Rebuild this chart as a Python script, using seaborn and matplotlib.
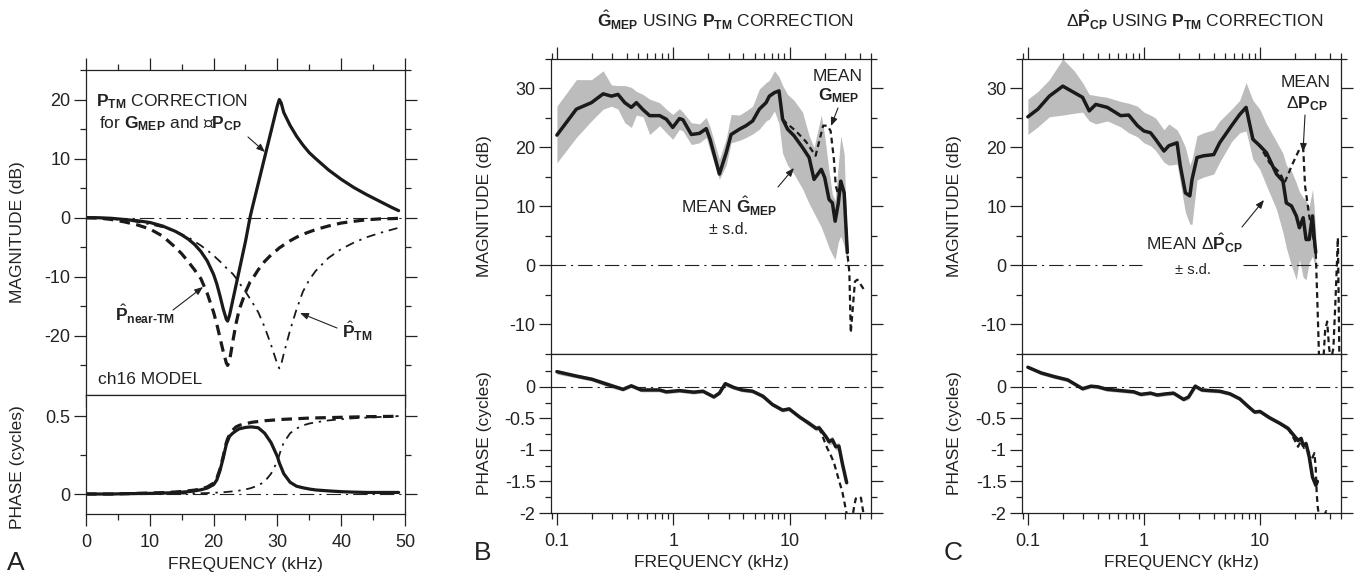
import matplotlib
matplotlib.use("Agg")
import matplotlib.pyplot as plt
import matplotlib.ticker as mticker
import matplotlib.patches
import seaborn as sns

# ---------------- Panel A: ch16 model (linear frequency, kHz) ----------------
freq_a = [0, 2, 4, 6, 8, 10, 12, 14, 15, 16, 17, 18, 19, 20, 20.5, 21, 21.5, 22, 22.2, 22.5,
          23, 23.5, 24, 25, 25.7, 26, 27, 28, 29, 30, 30.3, 30.6, 31, 32, 33, 34, 35, 36,
          38, 40, 42, 44, 46, 48, 49]
mag_corr = [0, 0, -0.1, -0.3, -0.5, -0.8, -1.4, -2.3, -2.9, -3.6, -4.5, -5.7, -7.3, -9.6, -11.2,
            -13.2, -15.4, -17.2, -17.5, -16.5, -14.0, -11.5, -9.0, -4.0, 0, 1.4, 5.8, 10.2, 14.6,
            19.0, 20.0, 19.4, 17.8, 15.6, 13.8, 12.3, 11.0, 10.0, 8.1, 6.5, 5.1, 3.9, 2.8, 1.7, 1.2]
mag_near = [0, -0.05, -0.3, -0.7, -1.2, -1.9, -3.1, -5.0, -6.1, -7.4, -8.8, -10.3, -12.8, -16.0,
            -18.0, -20.3, -22.6, -24.6, -25.0, -24.2, -21.0, -18.0, -15.6, -12.6, -10.9, -10.5,
            -8.8, -7.4, -6.3, -5.4, -5.1, -4.9, -4.6, -3.9, -3.3, -2.8, -2.4, -2.0, -1.4, -0.9,
            -0.6, -0.35, -0.2, -0.15, -0.1]
mag_tm = [0, -0.05, -0.2, -0.4, -0.7, -1.1, -1.6, -2.3, -2.8, -3.3, -4.0, -4.7, -5.5, -6.4, -6.9,
          -7.4, -7.9, -8.5, -8.7, -9.0, -9.5, -10.2, -11.0, -12.5, -13.7, -14.2, -16.0, -18.5,
          -21.5, -24.8, -25.5, -24.8, -23.0, -19.0, -15.5, -12.5, -10.5, -9.0, -6.8, -5.3, -4.2,
          -3.3, -2.6, -2.0, -1.7]
ph_corr = [0, 0, 0, 0.002, 0.003, 0.004, 0.006, 0.009, 0.012, 0.015, 0.02, 0.027, 0.038, 0.06,
           0.09, 0.15, 0.23, 0.32, 0.34, 0.37, 0.39, 0.405, 0.418, 0.427, 0.43, 0.43, 0.425, 0.39,
           0.33, 0.24, 0.2, 0.17, 0.13, 0.075, 0.05, 0.04, 0.032, 0.026, 0.02, 0.015, 0.012,
           0.01, 0.01, 0.01, 0.01]
ph_near = [0, 0, 0, 0.002, 0.004, 0.006, 0.009, 0.013, 0.016, 0.02, 0.025, 0.032, 0.045, 0.07,
           0.1, 0.16, 0.24, 0.33, 0.355, 0.38, 0.41, 0.43, 0.44, 0.452, 0.457, 0.46, 0.465, 0.47,
           0.473, 0.476, 0.477, 0.478, 0.479, 0.481, 0.483, 0.485, 0.487, 0.488, 0.49, 0.492,
           0.494, 0.496, 0.497, 0.498, 0.5]
ph_tm = [0, 0, 0, 0, 0.001, 0.001, 0.002, 0.002, 0.003, 0.003, 0.004, 0.005, 0.006, 0.008, 0.009,
         0.01, 0.011, 0.013, 0.014, 0.015, 0.017, 0.019, 0.022, 0.03, 0.036, 0.04, 0.055, 0.08,
         0.13, 0.21, 0.25, 0.29, 0.33, 0.39, 0.42, 0.44, 0.452, 0.46, 0.472, 0.48, 0.486, 0.49,
         0.494, 0.497, 0.5]

# ---------------- Panel B: G_MEP (log frequency, kHz) ----------------
freq_b = [0.1, 0.147, 0.198, 0.25, 0.294, 0.335, 0.383, 0.436, 0.482, 0.55, 0.627, 0.763, 0.871,
          0.99, 1.13, 1.21, 1.43, 1.68, 1.92, 2.07, 2.49, 2.85, 3.14, 3.7, 4.22, 4.81, 5.49, 6.27,
          6.69, 7.4, 8.1, 8.7, 9.6, 10.9, 12.9, 14.7, 16.2, 18.7, 20.0, 21.8, 23.3, 24.6, 26.2,
          27.5, 29.4, 31.3]
mag_b = [22.1, 26.5, 27.6, 29.1, 28.7, 29.0, 27.6, 26.8, 27.6, 26.4, 25.4, 25.4, 24.8, 23.4, 24.9,
         24.7, 22.2, 22.4, 23.2, 21.4, 15.5, 19.1, 22.2, 23.1, 23.7, 24.5, 26.5, 27.6, 28.7, 29.3,
         29.6, 24.8, 23.1, 22.0, 20.0, 18.3, 14.6, 16.3, 14.9, 11.2, 10.6, 7.5, 10.6, 14.3, 12.3, 2.2]
mag_b_hi = [27.0, 31.5, 31.5, 33.0, 30.6, 30.5, 30.5, 30.2, 29.5, 29.0, 28.2, 27.6, 26.5, 25.6,
            26.6, 26.0, 24.2, 24.0, 25.1, 23.5, 18.0, 21.5, 25.6, 25.5, 26.2, 27.0, 29.9, 31.0,
            31.4, 33.0, 32.0, 30.5, 29.0, 28.0, 26.0, 22.0, 20.0, 25.5, 22.0, 16.0, 12.0, 11.0,
            17.0, 22.0, 18.9, 3.2]
mag_b_lo = [17.4, 21.7, 24.5, 26.5, 27.0, 26.5, 24.2, 23.4, 25.5, 25.2, 22.2, 23.7, 22.5, 21.4,
            23.1, 22.8, 20.5, 20.8, 21.7, 19.5, 14.6, 17.0, 20.8, 21.2, 21.7, 22.3, 23.1, 24.5,
            24.8, 26.2, 24.0, 19.0, 17.0, 15.5, 13.0, 10.5, 8.9, 6.5, 5.0, 3.0, 1.8, 1.0, 4.0,
            5.0, 3.3, 0.0]
freq_b_dash = [8.7, 9.3, 11.3, 13.8, 16.7, 19.4, 21.1, 22.5, 24.0, 24.9, 26.2, 27.5, 29.4, 31.3,
               32.6, 33.5, 36.4, 38.2, 43.6]
mag_b_dash = [24.8, 24.2, 22.8, 21.0, 18.6, 23.7, 23.7, 22.8, 18.0, 13.5, 12.0, 14.3, 12.3, 2.2,
              -1.2, -11.4, -2.7, -2.4, -4.1]
freq_bp = [0.1, 0.147, 0.2, 0.27, 0.37, 0.436, 0.53, 0.763, 0.87, 1.13, 1.5, 1.8, 2.23, 2.49, 2.8,
           3.3, 3.9, 4.8, 5.9, 7.1, 8.7, 9.9, 12.2, 14.7, 16.9, 17.9, 20.5, 21.8, 23.3, 24.9, 26.5,
           28.4, 30.9]
ph_b = [0.24, 0.17, 0.12, 0.04, -0.04, 0.016, -0.05, -0.05, -0.08, -0.06, -0.085, -0.07, -0.16,
        -0.1, 0.05, -0.01, -0.05, -0.07, -0.15, -0.28, -0.37, -0.35, -0.48, -0.58, -0.66, -0.65,
        -0.79, -0.87, -0.84, -0.95, -0.94, -1.22, -1.52]
ph_b_hi = [0.27, 0.2, 0.15, 0.08, -0.01, 0.04, -0.02, -0.02, -0.05, -0.03, -0.055, -0.04, -0.13,
           -0.07, 0.08, 0.02, -0.02, -0.04, -0.12, -0.25, -0.34, -0.32, -0.45, -0.54, -0.62, -0.6,
           -0.75, -0.82, -0.78, -0.9, -0.88, -1.15, -1.48]
ph_b_lo = [0.2, 0.14, 0.09, 0.0, -0.07, -0.01, -0.08, -0.08, -0.11, -0.09, -0.115, -0.1, -0.19,
           -0.13, 0.01, -0.04, -0.08, -0.1, -0.18, -0.31, -0.4, -0.38, -0.51, -0.62, -0.7, -0.69,
           -0.83, -0.92, -0.9, -1.0, -1.0, -1.28, -1.56]
freq_bp_dash1 = [17.9, 19.5, 21.0, 22.5, 24.0, 26.5, 28.4, 30.5, 32.0]
ph_b_dash1 = [-0.65, -0.82, -0.97, -1.08, -1.2, -1.48, -1.67, -1.96, -2.15]
freq_bp_dash2 = [34.0, 35.8, 37.0, 39.5, 41.0, 42.4, 44.0]
ph_b_dash2 = [-2.15, -1.9, -1.77, -1.74, -1.76, -1.93, -2.1]

# ---------------- Panel C: delta P_CP (log frequency, kHz) ----------------
freq_c = [0.1, 0.122, 0.153, 0.2, 0.251, 0.296, 0.338, 0.385, 0.484, 0.63, 0.74, 0.88, 1.0, 1.14,
          1.26, 1.49, 1.64, 1.93, 2.06, 2.28, 2.49, 2.6, 2.87, 3.28, 4.0, 4.5, 5.7, 6.7, 7.6, 8.7,
          9.98, 11.4, 13.9, 15.8, 16.9, 18.7, 20.6, 21.9, 23.6, 25.0, 26.6, 28.4, 29.3, 30.3]
mag_c = [25.2, 26.5, 28.7, 30.4, 29.3, 28.5, 26.2, 27.3, 26.8, 25.4, 25.5, 23.7, 22.8, 22.5, 21.4,
         19.4, 20.3, 20.8, 16.9, 12.3, 11.8, 14.6, 18.3, 18.6, 18.8, 20.8, 23.7, 25.6, 26.8, 21.4,
         20.3, 19.1, 15.5, 14.3, 10.6, 10.1, 8.4, 6.4, 8.1, 4.4, 4.4, 8.4, 5.0, 2.2]
mag_c_hi = [28.2, 29.5, 31.5, 35.0, 33.0, 31.0, 29.0, 28.8, 28.5, 27.8, 27.5, 27.0, 26.0, 25.5,
            25.0, 23.0, 24.0, 23.0, 22.0, 20.0, 17.0, 18.0, 22.0, 22.5, 23.0, 24.5, 26.5, 28.0,
            31.0, 28.0, 26.5, 24.0, 21.0, 19.0, 17.0, 16.0, 14.0, 12.5, 11.5, 11.0, 10.0, 12.9,
            10.0, 5.6]
mag_c_lo = [22.2, 23.5, 25.2, 25.5, 25.8, 26.0, 24.5, 24.0, 24.5, 23.5, 22.5, 21.8, 20.8, 20.3,
            19.5, 17.5, 17.0, 17.2, 14.0, 9.0, 7.0, 7.0, 14.5, 15.0, 15.5, 17.5, 21.0, 22.5, 22.8,
            18.0, 16.3, 13.5, 9.5, 5.6, 3.0, 0.0, -2.4, 1.0, -2.0, -2.4, 0.5, 1.6, 0.5, -0.1]
freq_c_dash = [7.6, 8.7, 9.98, 12.1, 14.9, 16.3, 19.3, 21.9, 23.6, 24.5, 26.6, 28.4, 30.3, 31.5,
               32.5, 35.0, 36.5, 38.0, 39.5, 41.0, 43.0, 45.0, 47.0, 48.5]
mag_c_dash = [26.8, 21.4, 20.3, 17.4, 15.7, 14.0, 17.4, 19.7, 20.0, 13.5, 8.4, 5.5, 2.2, -8.0,
              -17.0, -17.0, -11.0, -9.5, -14.0, -16.0, -14.0, -5.0, 4.7, -17.0]
freq_cp = [0.1, 0.13, 0.17, 0.22, 0.296, 0.35, 0.4, 0.48, 0.63, 0.82, 0.94, 1.14, 1.3, 1.58, 1.8,
           2.2, 2.43, 2.77, 3.16, 3.7, 4.5, 5.5, 6.7, 7.9, 9.0, 10.0, 12.1, 14.9, 17.5, 20.0,
           21.3, 22.7, 23.6, 25.0, 26.6, 28.4, 30.3, 31.3]
ph_c = [0.31, 0.22, 0.16, 0.11, -0.03, 0.01, 0.0, -0.04, -0.06, -0.08, -0.12, -0.1, -0.13, -0.11,
        -0.1, -0.2, -0.16, 0.01, -0.05, -0.06, -0.07, -0.11, -0.19, -0.31, -0.4, -0.39, -0.49,
        -0.58, -0.66, -0.79, -0.85, -0.82, -0.93, -0.9, -1.11, -1.43, -1.56, -1.5]
ph_c_hi = [0.33, 0.25, 0.19, 0.14, 0.0, 0.04, 0.03, -0.01, -0.03, -0.05, -0.09, -0.07, -0.1,
           -0.08, -0.07, -0.17, -0.12, 0.05, -0.02, -0.03, -0.04, -0.08, -0.16, -0.28, -0.37,
           -0.36, -0.46, -0.55, -0.62, -0.75, -0.8, -0.77, -0.88, -0.85, -1.06, -1.38, -1.52, -1.46]
ph_c_lo = [0.29, 0.19, 0.13, 0.08, -0.06, -0.02, -0.03, -0.07, -0.09, -0.11, -0.15, -0.13, -0.16,
           -0.14, -0.13, -0.23, -0.2, -0.03, -0.08, -0.09, -0.1, -0.14, -0.22, -0.34, -0.43,
           -0.42, -0.52, -0.61, -0.7, -0.83, -0.9, -0.87, -0.98, -0.95, -1.16, -1.48, -1.6, -1.54]
freq_cp_dash1 = [17.5, 20.0, 21.3, 22.7, 24.0, 25.0, 26.6, 28.4, 29.5, 30.3, 30.9, 31.5, 32.5]
ph_c_dash1 = [-0.66, -0.85, -0.95, -0.86, -0.97, -0.95, -1.05, -1.12, -1.05, -1.3, -1.7, -1.9, -2.1]
freq_cp_dash2 = [35.5, 37.3, 39.0]
ph_c_dash2 = [-2.05, -1.97, -2.05]

# ---------------- Styling ----------------
sns.set_theme(style="ticks")
plt.rcParams['font.family'] = ['Liberation Sans', 'DejaVu Sans']
plt.rcParams.update({
    'mathtext.fontset': 'custom',
    'mathtext.rm': 'Liberation Sans',
    'mathtext.it': 'Liberation Sans:italic',
    'mathtext.bf': 'Liberation Sans:bold',
    'mathtext.sf': 'Liberation Sans',
    'axes.unicode_minus': False,
    'axes.edgecolor': '#222222',
    'axes.linewidth': 0.9,
    'text.color': '#222222',
    'xtick.color': '#222222',
    'ytick.color': '#222222',
    'axes.labelcolor': '#222222',
})

W, H = 1364, 578
fig = plt.figure(figsize=(W / 100, H / 100), dpi=100)


def box(l, t, r, b):
    return [l / W, 1 - b / H, (r - l) / W, (b - t) / H]


def fp(x, y):
    return (x / W, 1 - y / H)


axAm = fig.add_axes(box(86, 70, 405, 395))
axAp = fig.add_axes(box(86, 395, 405, 513.5))
axBm = fig.add_axes(box(551, 59, 871, 354))
axBp = fig.add_axes(box(551, 354, 871, 513))
axCm = fig.add_axes(box(1022, 59, 1341, 354))
axCp = fig.add_axes(box(1022, 354, 1341, 513))

TXT = '#222222'
FS_T = 13
FS_L = 12.5
ZERO_LS = (0, (13, 4.5, 2, 4.5))


def style(ax, top):
    ax.tick_params(which='both', direction='out', width=0.9, labelsize=FS_T,
                   top=top, bottom=True, left=True, right=True,
                   labeltop=False, labelright=False)
    ax.tick_params(which='major', length=8.6)
    ax.tick_params(which='minor', length=4.4)
    ax.tick_params(axis='y', which='both', pad=2.5)
    ax.tick_params(axis='x', which='both', pad=6)
    for s in ax.spines.values():
        s.set_visible(True)


fmt = mticker.FuncFormatter(lambda v, p: ('%g' % v))

# ---- Panel A magnitude ----
axAm.axhline(0, color=TXT, lw=0.8, linestyle=ZERO_LS)
sns.lineplot(x=freq_a, y=mag_tm, ax=axAm, color='k', lw=1.3, sort=False, estimator=None,
             linestyle=(0, (5.0, 3.2, 1.3, 3.2)))
sns.lineplot(x=freq_a, y=mag_near, ax=axAm, color='k', lw=2.3, sort=False, estimator=None,
             linestyle=(0, (3.3, 2.0)))
sns.lineplot(x=freq_a, y=mag_corr, ax=axAm, color='k', lw=2.3, sort=False, estimator=None)
axAm.set_xlim(0, 50)
axAm.set_ylim(-30, 25)
axAm.xaxis.set_major_locator(mticker.MultipleLocator(10))
axAm.xaxis.set_minor_locator(mticker.MultipleLocator(5))
axAm.yaxis.set_major_locator(mticker.FixedLocator([-20, -10, 0, 10, 20]))
axAm.yaxis.set_minor_locator(mticker.FixedLocator([-25, -15, -5, 5, 15, 25]))
axAm.yaxis.set_major_formatter(fmt)
style(axAm, top=True)
axAm.tick_params(labelbottom=False)
axAm.set_ylabel('MAGNITUDE (dB)', fontsize=FS_L, va='center')
axAm.yaxis.set_label_coords((17.5 - 86) / 319, 0.5)

# ---- Panel A phase ----
axAp.axhline(0, color=TXT, lw=0.8, linestyle=ZERO_LS)
sns.lineplot(x=freq_a, y=ph_tm, ax=axAp, color='k', lw=1.3, sort=False, estimator=None,
             linestyle=(0, (5.0, 3.2, 1.3, 3.2)))
sns.lineplot(x=freq_a, y=ph_near, ax=axAp, color='k', lw=2.3, sort=False, estimator=None,
             linestyle=(0, (3.3, 2.0)))
sns.lineplot(x=freq_a, y=ph_corr, ax=axAp, color='k', lw=2.3, sort=False, estimator=None)
axAp.set_xlim(0, 50)
axAp.set_ylim(-0.125, 0.635)
axAp.xaxis.set_major_locator(mticker.MultipleLocator(10))
axAp.xaxis.set_minor_locator(mticker.MultipleLocator(5))
axAp.yaxis.set_major_locator(mticker.FixedLocator([0, 0.5]))
axAp.yaxis.set_minor_locator(mticker.FixedLocator([0.25]))
axAp.yaxis.set_major_formatter(fmt)
axAp.xaxis.set_major_formatter(fmt)
style(axAp, top=False)
axAp.set_xlabel('FREQUENCY (kHz)', fontsize=FS_L, va='center')
axAp.xaxis.set_label_coords(0.5, -(565 - 513.5) / 118.5)
axAp.set_ylabel('PHASE (cycles)', fontsize=FS_L, va='center')
axAp.yaxis.set_label_coords((17.5 - 86) / 319, 0.39)


def log_axes(ax, top):
    ax.set_xscale('log')
    ax.set_xlim(0.089, 50)
    ax.xaxis.set_major_locator(mticker.FixedLocator([0.1, 1, 10]))
    ax.xaxis.set_minor_locator(mticker.LogLocator(base=10, subs=range(2, 10), numticks=20))
    ax.xaxis.set_major_formatter(fmt)
    ax.xaxis.set_minor_formatter(mticker.NullFormatter())
    style(ax, top=top)


def mag_axes(ax, label_x):
    log_axes(ax, top=True)
    ax.set_ylim(-15, 35)
    ax.yaxis.set_major_locator(mticker.MultipleLocator(10))
    ax.yaxis.set_minor_locator(mticker.MultipleLocator(5))
    ax.yaxis.set_major_formatter(fmt)
    ax.tick_params(labelbottom=False)
    ax.set_ylabel('MAGNITUDE (dB)', fontsize=FS_L, va='center')
    ax.yaxis.set_label_coords(label_x, 0.5)


def phase_axes(ax, label_x):
    log_axes(ax, top=False)
    ax.set_ylim(-2, 0.52)
    ax.yaxis.set_major_locator(mticker.FixedLocator([0, -0.5, -1, -1.5, -2]))
    ax.yaxis.set_minor_locator(mticker.FixedLocator([0.25, -0.25, -0.75, -1.25, -1.75]))
    ax.yaxis.set_major_formatter(fmt)
    ax.set_ylabel('PHASE (cycles)', fontsize=FS_L, va='center')
    ax.yaxis.set_label_coords(label_x, 0.5)
    ax.set_xlabel('FREQUENCY (kHz)', fontsize=FS_L, va='center')
    ax.xaxis.set_label_coords(0.5, -(562.5 - 513) / 159)


BAND = '#bcbcbc'
for ax in (axBm, axBp, axCm, axCp):
    ax.set_xscale('log')

# ---- Panel B magnitude ----
axBm.fill_between(freq_b, mag_b_lo, mag_b_hi, color=BAND, lw=0)
axBm.axhline(0, color=TXT, lw=0.8, linestyle=ZERO_LS)
sns.lineplot(x=freq_b_dash, y=mag_b_dash, ax=axBm, color='k', lw=1.6, sort=False,
             estimator=None, linestyle=(0, (2.6, 1.8)))
sns.lineplot(x=freq_b, y=mag_b, ax=axBm, color='k', lw=2.5, sort=False, estimator=None)
mag_axes(axBm, (485 - 551) / 320)

# ---- Panel B phase ----
axBp.fill_between(freq_bp, ph_b_lo, ph_b_hi, color=BAND, lw=0)
axBp.axhline(0, color=TXT, lw=0.8, linestyle=ZERO_LS)
sns.lineplot(x=freq_bp_dash1, y=ph_b_dash1, ax=axBp, color='k', lw=1.6, sort=False,
             estimator=None, linestyle=(0, (2.6, 1.8)))
sns.lineplot(x=freq_bp_dash2, y=ph_b_dash2, ax=axBp, color='k', lw=1.6, sort=False,
             estimator=None, linestyle=(0, (2.6, 1.8)))
sns.lineplot(x=freq_bp, y=ph_b, ax=axBp, color='k', lw=2.5, sort=False, estimator=None)
phase_axes(axBp, (485 - 551) / 320)

# ---- Panel C magnitude ----
axCm.fill_between(freq_c, mag_c_lo, mag_c_hi, color=BAND, lw=0)
# zero line interrupted by the "MEAN dP_CP +- s.d." label
axCm.axhline(0, xmin=0, xmax=(1142 - 1022) / 319, color=TXT, lw=0.8, linestyle=ZERO_LS)
axCm.axhline(0, xmin=(1243 - 1022) / 319, xmax=1, color=TXT, lw=0.8, linestyle=ZERO_LS)
sns.lineplot(x=freq_c_dash, y=mag_c_dash, ax=axCm, color='k', lw=1.6, sort=False,
             estimator=None, linestyle=(0, (2.6, 1.8)))
sns.lineplot(x=freq_c, y=mag_c, ax=axCm, color='k', lw=2.5, sort=False, estimator=None)
mag_axes(axCm, (955 - 1022) / 319)

# ---- Panel C phase ----
axCp.fill_between(freq_cp, ph_c_lo, ph_c_hi, color=BAND, lw=0)
axCp.axhline(0, color=TXT, lw=0.8, linestyle=ZERO_LS)
sns.lineplot(x=freq_cp_dash1, y=ph_c_dash1, ax=axCp, color='k', lw=1.6, sort=False,
             estimator=None, linestyle=(0, (2.6, 1.8)))
sns.lineplot(x=freq_cp_dash2, y=ph_c_dash2, ax=axCp, color='k', lw=1.6, sort=False,
             estimator=None, linestyle=(0, (2.6, 1.8)))
sns.lineplot(x=freq_cp, y=ph_c, ax=axCp, color='k', lw=2.5, sort=False, estimator=None)
phase_axes(axCp, (955 - 1022) / 319)

for ax in (axAm, axAp, axBm, axBp, axCm, axCp):
    if ax.get_legend() is not None:
        ax.get_legend().remove()

# ---------------- Text annotations ----------------
FA = 12.5


def ftext(x, y, s, **kw):
    kw.setdefault('fontsize', FA)
    kw.setdefault('va', 'baseline')
    return fig.text(*fp(x, y), s, color=TXT, **kw)


def arrow(x0, y0, x1, y1):
    fig.add_artist(matplotlib.patches.FancyArrowPatch(
        fp(x0, y0), fp(x1, y1), transform=fig.transFigure,
        arrowstyle='-|>,head_length=5,head_width=2', lw=0.8, color=TXT,
        shrinkA=0, shrinkB=0))


# Panel A
ftext(96, 106, r'$\mathbf{P}_{\mathbf{TM}}$ CORRECTION')
ftext(99, 128.5, 'for $\\mathbf{G}_{\\mathbf{MEP}}$ and \u25AF$\\mathbf{P}_{\\mathbf{CP}}$')
arrow(248, 137, 265, 152)
ftext(115, 321.5, '$\\hat{\\mathbf{P}}_{\\mathbf{near\u2010TM}}$')
arrow(173, 310, 203, 287)
ftext(342, 338, r'$\hat{\mathbf{P}}_{\mathbf{TM}}$')
arrow(337, 328, 300, 313)
ftext(98, 383.5, 'ch16 MODEL')

# Panel B
ftext(726, 27.5, r'$\hat{\mathbf{G}}_{\mathbf{MEP}}$ USING $\mathbf{P}_{\mathbf{TM}}$ CORRECTION',
      ha='center')
ftext(838, 81, 'MEAN', ha='center')
ftext(839, 100.5, r'$\mathbf{G}_{\mathbf{MEP}}$', ha='center')
arrow(838, 108, 831, 126)
ftext(729, 213.5, r'MEAN $\hat{\mathbf{G}}_{\mathbf{MEP}}$', ha='center')
ftext(729, 234.5, '\u00B1 s.d.', ha='center', fontsize=11.5)
arrow(778, 187, 794, 168)

# Panel C
ftext(1195, 27.5, r'$\Delta\hat{\mathbf{P}}_{\mathbf{CP}}$ USING $\mathbf{P}_{\mathbf{TM}}$ CORRECTION',
      ha='center')
ftext(1306, 87.5, 'MEAN', ha='center')
ftext(1307, 108.5, r'$\Delta\mathbf{P}_{\mathbf{CP}}$', ha='center')
arrow(1305, 115, 1303, 152)
ftext(1194, 250.5, r'MEAN $\Delta\hat{\mathbf{P}}_{\mathbf{CP}}$', ha='center')
ftext(1193, 273.5, '\u00B1 s.d.', ha='center', fontsize=10.5)
arrow(1242, 227, 1264, 200)

# Panel letters
ftext(7, 570, 'A', fontsize=19)
ftext(474, 560, 'B', fontsize=19)
ftext(944, 560, 'C', fontsize=19)

fig.savefig('out.png', dpi=100)
